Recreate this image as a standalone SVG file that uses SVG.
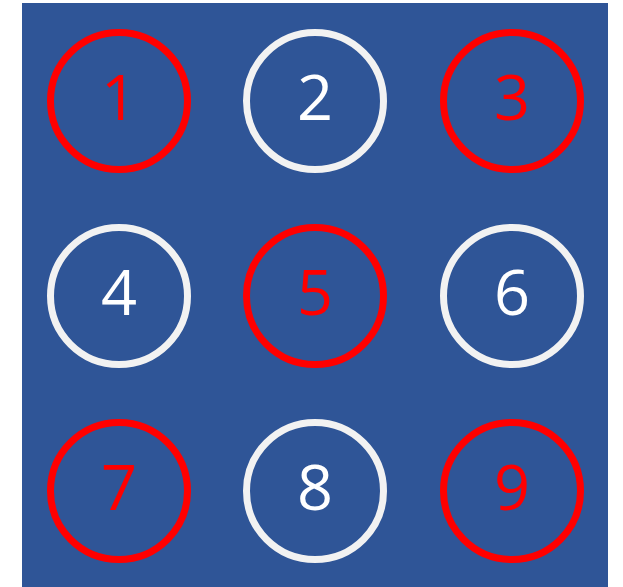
<svg xmlns="http://www.w3.org/2000/svg" width="623" height="587" viewBox="0 0 623 587">
<style>
.bg{fill:#2f5597}
.ring{fill:none;stroke-width:7}
.r{stroke:#ff0000}
.w{stroke:#f2f2f2}
.t{font-family:"Open Sans","Lato","DejaVu Sans",sans-serif;font-weight:400;font-size:63px;text-anchor:middle}
.tr{fill:#ff0000}
.tw{fill:#ffffff}
</style>
<rect class="bg" x="22" y="3" width="586" height="584"/>
<g id="node1"><circle class="ring r" cx="119" cy="101" r="68.5"/><text class="t tr" x="119" y="120">1</text></g>
<g id="node2"><circle class="ring w" cx="315" cy="101" r="68.5"/><text class="t tw" x="315" y="120">2</text></g>
<g id="node3"><circle class="ring r" cx="512" cy="101" r="68.5"/><text class="t tr" x="512" y="120">3</text></g>
<g id="node4"><circle class="ring w" cx="119" cy="296" r="68.5"/><text class="t tw" x="119" y="315">4</text></g>
<g id="node5"><circle class="ring r" cx="315" cy="296" r="68.5"/><text class="t tr" x="315" y="315">5</text></g>
<g id="node6"><circle class="ring w" cx="512" cy="296" r="68.5"/><text class="t tw" x="512" y="315">6</text></g>
<g id="node7"><circle class="ring r" cx="119" cy="491" r="68.5"/><text class="t tr" x="119" y="510">7</text></g>
<g id="node8"><circle class="ring w" cx="315" cy="491" r="68.5"/><text class="t tw" x="315" y="510">8</text></g>
<g id="node9"><circle class="ring r" cx="512" cy="491" r="68.5"/><text class="t tr" x="512" y="510">9</text></g>
<g id="connectors"></g>
</svg>
